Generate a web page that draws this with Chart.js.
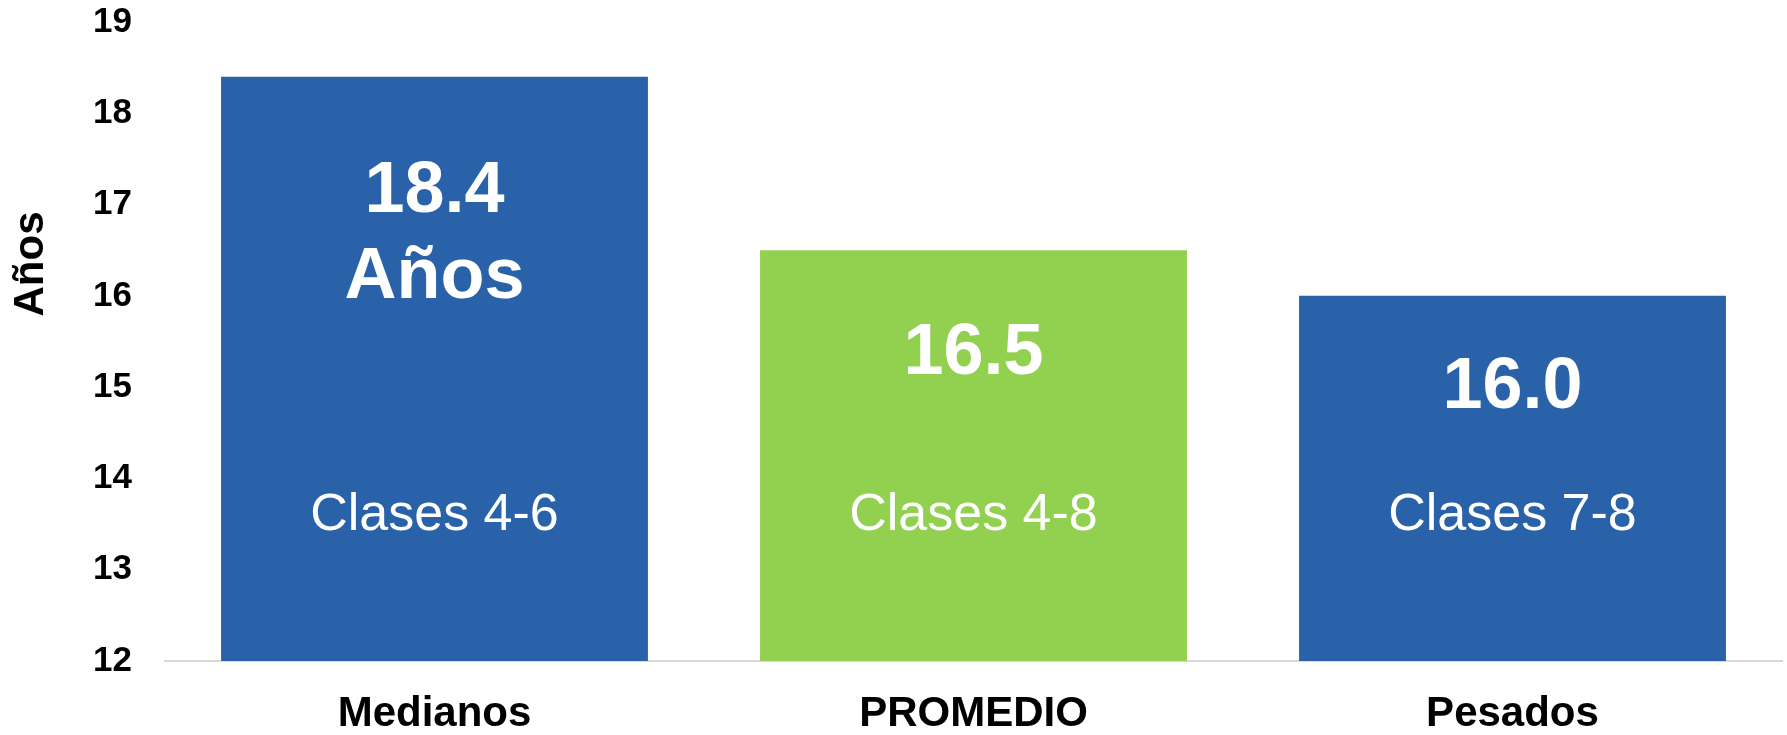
<!DOCTYPE html>
<html>
<head>
<meta charset="utf-8">
<script src="https://cdn.jsdelivr.net/npm/chart.js@4/dist/chart.umd.min.js"></script>
<style>
  html, body { margin: 0; padding: 0; background: #fff; }
  .wrap { width: 1787px; height: 735px; position: relative; }
</style>
</head>
<body>
<div class="wrap"><canvas id="myChart"></canvas></div>
<script>
const categories = ['Medianos', 'PROMEDIO', 'Pesados'];
const ages = [18.4, 16.5, 16.0];
const classLabels = ['Clases 4-6', 'Clases 4-8', 'Clases 7-8'];
const showUnit = [true, false, false];
const barColors = ['#2a62aa', '#92d050', '#2a62aa'];
const yTicks = [12, 13, 14, 15, 16, 17, 18, 19];

const FONT = '"Liberation Sans", Arial, sans-serif';
const valueDy = [135, 124, 112];   // baseline below bar top, px
const classAt = 13.44;             // where the class text sits on the y scale

const barText = {
    id: 'barText',
    afterDatasetsDraw(chart) {
        const ctx = chart.ctx;
        const y = chart.scales.y;
        const bars = chart.getDatasetMeta(0).data;
        ctx.save();
        ctx.fillStyle = '#fff';
        ctx.textAlign = 'center';
        ctx.textBaseline = 'alphabetic';
        bars.forEach((bar, i) => {
            ctx.font = 'bold 72px ' + FONT;
            const base = bar.y + valueDy[i];
            ctx.fillText(ages[i].toFixed(1), bar.x, base);
            if (showUnit[i]) ctx.fillText('Años', bar.x, base + 86);
            ctx.font = '52px ' + FONT;
            ctx.fillText(classLabels[i], bar.x, y.getPixelForValue(classAt));
        });
        // y axis title
        ctx.fillStyle = '#000';
        ctx.font = 'bold 42px ' + FONT;
        ctx.textBaseline = 'middle';
        ctx.translate(31, 264);
        ctx.rotate(-Math.PI / 2);
        ctx.fillText('Años', 0, 0);
        ctx.restore();
    }
};

const ctx = document.getElementById('myChart').getContext('2d');
const myChart = new Chart(ctx, {
    type: 'bar',
    data: {
        labels: categories,
        datasets: [{
            data: ages,
            backgroundColor: barColors,
            categoryPercentage: 1,
            barPercentage: 0.792
        }]
    },
    options: {
        responsive: true,
        maintainAspectRatio: false,
        animation: false,
        layout: { padding: { top: 22, right: 5, left: 0, bottom: 0 } },
        plugins: {
            legend: { display: false },
            tooltip: { enabled: false }
        },
        scales: {
            x: {
                grid: { display: false, drawTicks: false },
                border: { display: true, color: '#d9d9d9', width: 2 },
                ticks: {
                    color: '#000',
                    padding: 28,
                    font: { family: FONT, size: 42, weight: 'bold' }
                },
                afterFit: s => { s.height = 74; }
            },
            y: {
                min: 12,
                max: 19,
                grid: { display: false, drawTicks: false },
                border: { display: false },
                afterBuildTicks: s => { s.ticks = yTicks.map(v => ({ value: v })); },
                ticks: {
                    color: '#000',
                    padding: 33,
                    font: { family: FONT, size: 35, weight: 'bold' }
                },
                afterFit: s => {
                    s.width = 165;
                    s.paddingTop = 0;
                    s.paddingBottom = 0;
                }
            }
        }
    },
    plugins: [barText]
});
</script>
</body>
</html>
